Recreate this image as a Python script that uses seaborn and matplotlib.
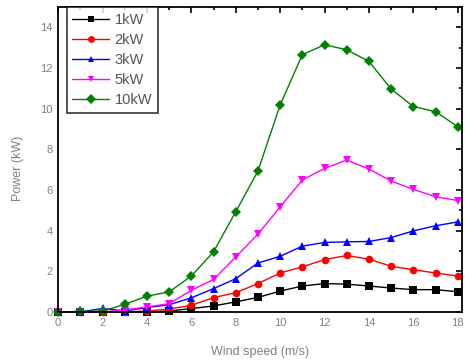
import matplotlib
matplotlib.use("Agg")
import matplotlib.pyplot as plt
import seaborn as sns
import pandas as pd
import numpy as np
from matplotlib.ticker import MultipleLocator

wind_speed = list(range(0, 19))
series_names = ["1kW", "2kW", "3kW", "5kW", "10kW"]
p_1kw = [0, 0, 0, 0, 0, 0.05, 0.17, 0.3, 0.5, 0.72, 1.03, 1.28, 1.4, 1.37, 1.28, 1.18, 1.1, 1.1, 1.0]
p_2kw = [0, 0, 0, 0, 0.05, 0.15, 0.33, 0.71, 0.95, 1.4, 1.92, 2.22, 2.58, 2.78, 2.6, 2.25, 2.08, 1.92, 1.77]
p_3kw = [0, 0, 0.18, 0.05, 0.22, 0.36, 0.7, 1.15, 1.64, 2.41, 2.74, 3.24, 3.42, 3.45, 3.47, 3.66, 3.99, 4.24, 4.43]
p_5kw = [0, 0, 0, 0.1, 0.25, 0.41, 1.07, 1.6, 2.71, 3.83, 5.17, 6.49, 7.06, 7.47, 7.03, 6.44, 6.03, 5.67, 5.48]
p_10kw = [0, 0.03, 0.05, 0.38, 0.78, 0.99, 1.77, 2.96, 4.93, 6.93, 10.18, 12.65, 13.14, 12.89, 12.32, 10.96, 10.1, 9.85, 9.11]

colors = ["#000000", "#ff0000", "#0000ff", "#ff00ff", "#008000"]
markers = ["s", "o", "^", "v", "D"]

frames = []
for name, vals in zip(series_names, [p_1kw, p_2kw, p_3kw, p_5kw, p_10kw]):
    frames.append(pd.DataFrame({"Wind speed": wind_speed, "Power": vals, "Series": name}))
df = pd.concat(frames, ignore_index=True)

sns.set_style("white")
plt.rcParams["font.family"] = ["Liberation Sans", "DejaVu Sans"]

fig = plt.figure(figsize=(4.65, 3.62), dpi=100)
ax = fig.add_axes([0.125, 0.138, 0.869, 0.843])

sns.lineplot(data=df, x="Wind speed", y="Power", hue="Series", style="Series",
             hue_order=series_names, style_order=series_names,
             palette=dict(zip(series_names, colors)),
             markers=dict(zip(series_names, markers)), dashes=False,
             markersize=5.5, markeredgewidth=0, linewidth=1.0, ax=ax, clip_on=False)

ax.set_xlim(0, 18.2)
ax.set_ylim(0, 15)
ax.set_xticks(range(0, 19, 2))
ax.set_yticks(range(0, 15, 2))
ax.xaxis.set_minor_locator(MultipleLocator(1))
ax.yaxis.set_minor_locator(MultipleLocator(1))
ax.tick_params(which="both", direction="in", top=True, right=True, colors="black",
               labelcolor="#808080", labelsize=8, width=1.2)
ax.tick_params(which="major", length=4, pad=4)
ax.tick_params(which="minor", length=2)
for s in ax.spines.values():
    s.set_color("black")
    s.set_linewidth(1.3)

ax.set_xlabel("Wind speed (m/s)", color="#808080", fontsize=9, labelpad=13)
ax.set_ylabel("Power (kW)", color="#808080", fontsize=9, labelpad=12)
ax.yaxis.set_label_coords(-0.085, 0.47)

leg = ax.legend(loc="upper left", bbox_to_anchor=(0.021, 1.0), frameon=True, fancybox=False,
                edgecolor="black", fontsize=10.5, handlelength=2.5, labelspacing=0.42,
                borderpad=0.4, handletextpad=0.4, borderaxespad=0, markerscale=0.9)
leg.get_frame().set_linewidth(1.2)
for t in leg.get_texts():
    t.set_color("#555555")

fig.savefig("out.png", dpi=100)
